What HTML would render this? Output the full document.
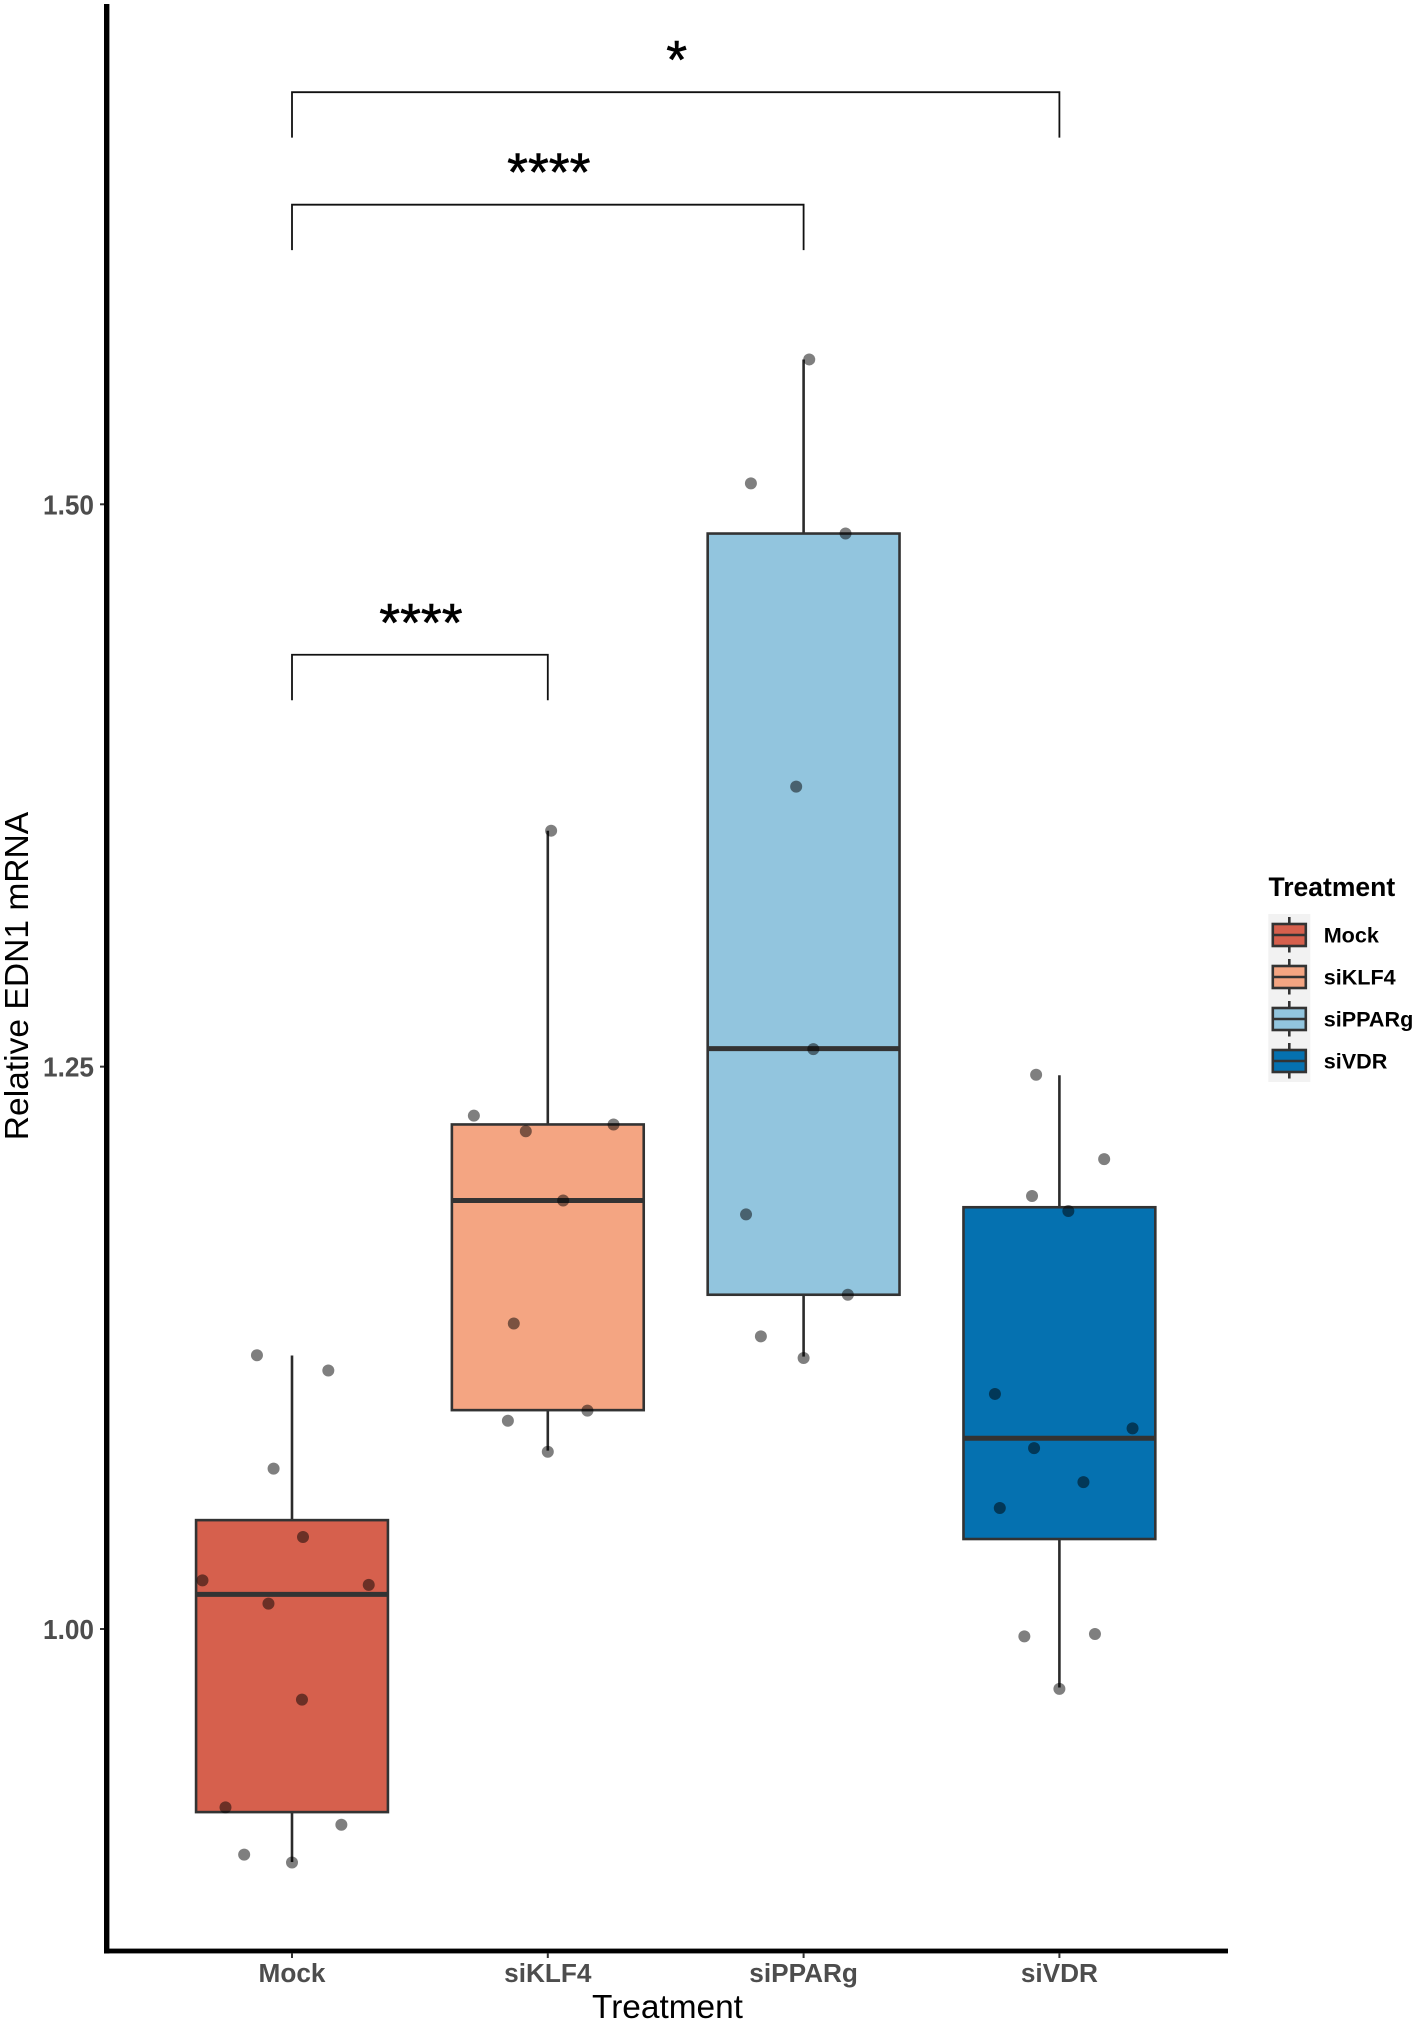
<!DOCTYPE html>
<html lang="en">
<head>
<meta charset="utf-8">
<title>Relative EDN1 mRNA by Treatment</title>
<style>
  html, body { margin: 0; padding: 0; background: #fff; }
  body { width: 1417px; height: 2024px; overflow: hidden; }
  svg { display: block; font-family: "Liberation Sans", Arial, sans-serif; }
</style>
</head>
<body>
<svg id="chart" xmlns="http://www.w3.org/2000/svg" width="1417" height="2024" viewBox="0 0 1417 2024">
  <rect x="0" y="0" width="1417" height="2024" fill="#ffffff"/>
  <text transform="translate(28,976) rotate(-90)" text-anchor="middle" font-size="33.6" fill="#000">Relative EDN1 mRNA</text>
  <text x="667.5" y="2018" text-anchor="middle" font-size="33.4" fill="#000">Treatment</text>
  <text x="1268.5" y="896" font-size="26.5" font-weight="bold" fill="#000">Treatment</text>
  <g id="marks"></g>
  <g id="axes"></g>
  <g id="legend"></g>
</svg>
<script>
const categories = ["Mock", "siKLF4", "siPPARg", "siVDR"];
const fills = ["#d6604d", "#f4a582", "#92c5de", "#0571b0"];
const yTicks = [1.00, 1.25, 1.50];
const yTickLabels = ["1.00", "1.25", "1.50"];

const whiskerHigh = [1.1216, 1.3549, 1.5644, 1.2462];
const q3Values = [1.0484, 1.2243, 1.4870, 1.1875];
const medians = [1.0154, 1.1905, 1.2580, 1.0848];
const q1Values = [0.9186, 1.0973, 1.1486, 1.0400];
const whiskerLow = [0.8964, 1.0793, 1.1211, 0.9740];

const mockValues = [1.1217, 1.1149, 1.0713, 1.0409, 1.0216, 1.0196, 1.0113, 0.9686, 0.9207, 0.9130, 0.8997, 0.8962];
const mockJitter = [-0.137, 0.142, -0.072, 0.043, -0.350, 0.300, -0.092, 0.039, -0.260, 0.193, -0.187, 0];
const klf4Values = [1.3549, 1.2282, 1.2243, 1.2213, 1.1905, 1.1358, 1.0971, 1.0926, 1.0788];
const klf4Jitter = [0.013, -0.289, 0.257, -0.086, 0.060, -0.133, 0.155, -0.156, 0];
const pparValues = [1.5644, 1.5093, 1.4870, 1.3745, 1.2578, 1.1843, 1.1486, 1.1301, 1.1205];
const pparJitter = [0.022, -0.206, 0.164, -0.029, 0.038, -0.225, 0.173, -0.167, 0];
const vdrValues = [1.2464, 1.2089, 1.1925, 1.1858, 1.1045, 1.0892, 1.0804, 1.0653, 1.0538, 0.9967, 0.9978, 0.9734];
const vdrJitter = [-0.091, 0.175, -0.107, 0.035, -0.252, 0.286, -0.099, 0.094, -0.233, -0.137, 0.139, 0];

const bracketStart = [0, 0, 0];
const bracketEnd = [3, 2, 1];
const bracketLevel = [1.6832, 1.6332, 1.4331];
const bracketLabels = ["*", "****", "****"];

const NS = "http://www.w3.org/2000/svg";
const xScale = c => 292 + c * 255.8;
const yScale = v => 1629 - (v - 1) * 2249.4;
const BOX_HALF = 0.375;
const TIP = 0.0202;
const marks = document.getElementById("marks");
const axes = document.getElementById("axes");
const legend = document.getElementById("legend");

function make(tag, attrs, parent) {
  const n = document.createElementNS(NS, tag);
  for (const k in attrs) n.setAttribute(k, attrs[k]);
  parent.appendChild(n);
  return n;
}

const pointValues = [mockValues, klf4Values, pparValues, vdrValues];
const pointJitter = [mockJitter, klf4Jitter, pparJitter, vdrJitter];

categories.forEach((cat, i) => {
  const g = make("g", {}, marks);
  
  
  const cx = xScale(i);
  const hi = make("line", { x1: cx, x2: cx, y1: yScale(whiskerHigh[i]), y2: yScale(q3Values[i]), stroke: "#2b2b2b", "stroke-width": 2.6 }, g);
  
  
  const lo = make("line", { x1: cx, x2: cx, y1: yScale(q1Values[i]), y2: yScale(whiskerLow[i]), stroke: "#2b2b2b", "stroke-width": 2.6 }, g);
  
  
  const left = xScale(i - BOX_HALF);
  const right = xScale(i + BOX_HALF);
  const box = make("rect", { x: left, y: yScale(q3Values[i]), width: right - left, height: yScale(q1Values[i]) - yScale(q3Values[i]), fill: fills[i], stroke: "#333", "stroke-width": 2.6 }, g);
  
  
  const med = make("line", { x1: left, x2: right, y1: yScale(medians[i]), y2: yScale(medians[i]), stroke: "#333", "stroke-width": 5 }, g);
  
  
  pointValues[i].forEach((v, j) => {
    const p = make("circle", { cx: xScale(i + pointJitter[i][j]), cy: yScale(v), r: 6, fill: "#000", "fill-opacity": 0.5 }, g);
    
    
  });
});

bracketLevel.forEach((lvl, i) => {
  const g = make("g", {}, marks);
  
  
  const x1 = xScale(bracketStart[i]);
  const x2 = xScale(bracketEnd[i]);
  const y = yScale(lvl);
  const yt = yScale(lvl - TIP);
  make("path", { d: `M${x1} ${yt}V${y}H${x2}V${yt}`, fill: "none", stroke: "#111", "stroke-width": 1.8 }, g);
  const t = make("text", { x: (x1 + x2) / 2 + 1, y: y - 14, "text-anchor": "middle", "font-size": 53.5, fill: "#000", stroke: "#000", "stroke-width": 0.6 }, g);
  t.textContent = bracketLabels[i];
  
  
});

const yLine = make("rect", { x: 104, y: 4, width: 5.4, height: 1949.5, fill: "#000" }, axes);


const xLine = make("rect", { x: 104, y: 1948.6, width: 1124, height: 4.8, fill: "#000" }, axes);



yTicks.forEach((v, i) => {
  const tick = make("line", { x1: 100, x2: 104, y1: yScale(v), y2: yScale(v), stroke: "#333", "stroke-width": 2 }, axes);
  
  
  const t = make("text", { x: 94, y: yScale(v) + 10, "text-anchor": "end", "font-size": 27.5, "font-weight": "bold", fill: "#4d4d4d", textLength: 51, lengthAdjust: "spacingAndGlyphs" }, axes);
  t.textContent = yTickLabels[i];
  
  
});

categories.forEach((cat, i) => {
  const tick = make("line", { x1: xScale(i), x2: xScale(i), y1: 1953, y2: 1958, stroke: "#333", "stroke-width": 2 }, axes);
  
  
  const t = make("text", { x: xScale(i), y: 1982, "text-anchor": "middle", "font-size": 26.2, "font-weight": "bold", fill: "#4d4d4d" }, axes);
  t.textContent = cat;
  
  

  const rowTop = 914 + i * 42;
  const keyBg = make("rect", { x: 1268.3, y: rowTop, width: 42, height: 42, fill: "#f2f2f2" }, legend);
  
  
  const keyWhisker = make("line", { x1: 1289.3, x2: 1289.3, y1: rowTop + 3, y2: rowTop + 38.5, stroke: "#333", "stroke-width": 2.6 }, legend);
  
  
  const keyBox = make("rect", { x: 1272.8, y: rowTop + 10, width: 33, height: 22, fill: fills[i], stroke: "#333", "stroke-width": 2.6 }, legend);
  
  
  const keyMed = make("line", { x1: 1272.8, x2: 1305.8, y1: rowTop + 21, y2: rowTop + 21, stroke: "#333", "stroke-width": 2.6 }, legend);
  
  
  const lab = make("text", { x: 1323.7, y: rowTop + 28.3, "font-size": 21.6, "font-weight": "bold", fill: "#000" }, legend);
  lab.textContent = cat;
  
  
});
</script>
</body>
</html>
